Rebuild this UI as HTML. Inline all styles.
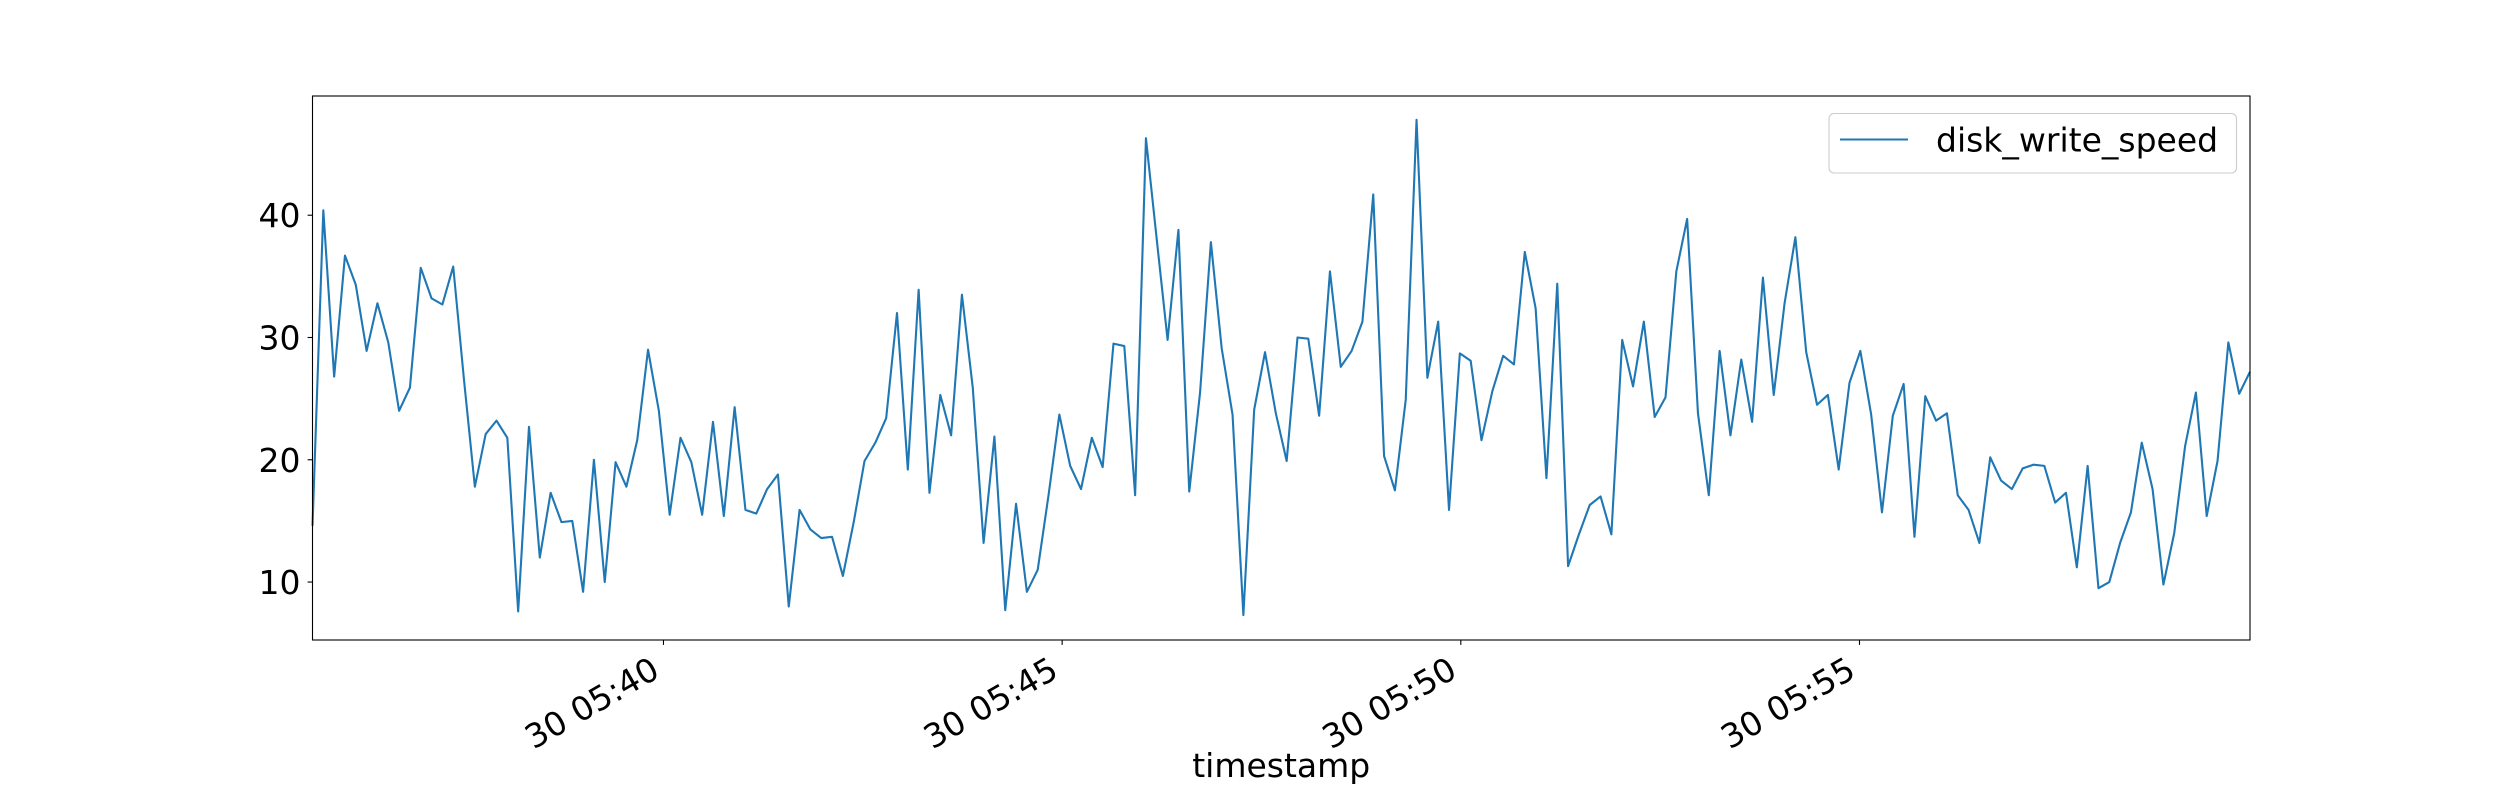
<!DOCTYPE html>
<html>
<head>
<meta charset="utf-8">
<style>
  html, body { margin: 0; padding: 0; background: #fff; }
  svg { display: block; font-family: "DejaVu Sans", "Liberation Sans", sans-serif; }
</style>
</head>
<body>
<svg id="chart" width="2500" height="800" viewBox="0 0 2500 800" xmlns="http://www.w3.org/2000/svg">
  <rect x="0" y="0" width="2500" height="800" fill="#ffffff"/>
  <g id="plot"></g>
</svg>
<script>
const diskWriteSpeed = [
  14.6, 40.4, 26.8, 36.7, 34.3, 28.9, 32.8, 29.6, 24.0, 25.9,
  35.7, 33.2, 32.7, 35.8, 26.5, 17.8, 22.1, 23.2, 21.8, 7.6,
  22.7, 12.0, 17.3, 14.9, 15.0, 9.2, 20.0, 10.0, 19.8, 17.8,
  21.6, 29.0, 24.0, 15.5, 21.8, 19.8, 15.5, 23.1, 15.4, 24.3,
  15.9, 15.6, 17.6, 18.8, 8.0, 15.9, 14.3, 13.6, 13.7, 10.5,
  14.9, 19.9, 21.4, 23.4, 32.0, 19.2, 33.9, 17.3, 25.3, 22.0,
  33.5, 25.9, 13.2, 21.9, 7.7, 16.4, 9.2, 11.0, 17.1, 23.7,
  19.5, 17.6, 21.8, 19.4, 29.5, 29.3, 17.1, 46.3, 38.0, 29.8,
  38.8, 17.4, 25.5, 37.8, 29.1, 23.7, 7.3, 24.1, 28.8, 23.8,
  19.9, 30.0, 29.9, 23.6, 35.4, 27.6, 28.9, 31.3, 41.7, 20.3,
  17.5, 24.9, 47.8, 26.7, 31.3, 15.9, 28.7, 28.1, 21.6, 25.6,
  28.5, 27.8, 37.0, 32.4, 18.5, 34.4, 11.3, 13.9, 16.3, 17.0,
  13.9, 29.8, 26.0, 31.3, 23.5, 25.1, 35.4, 39.7, 23.8, 17.1,
  28.9, 22.0, 28.2, 23.1, 34.9, 25.3, 32.8, 38.2, 28.8, 24.5,
  25.3, 19.2, 26.3, 28.9, 23.7, 15.7, 23.6, 26.2, 13.7, 25.2,
  23.2, 23.8, 17.1, 15.9, 13.2, 20.2, 18.3, 17.6, 19.3, 19.6,
  19.5, 16.5, 17.3, 11.2, 19.5, 9.5, 10.0, 13.2, 15.7, 21.4,
  17.6, 9.8, 14.0, 21.1, 25.5, 15.4, 19.9, 29.6, 25.4, 27.2
];
const startSeconds = 20135.9;   // 05:35:35.9
const stepSeconds = 8.145;
const yTickValues = [10, 20, 30, 40];
const xTickLabels = ["30 05:40", "30 05:45", "30 05:50", "30 05:55"];
const xTickSeconds = [20400, 20700, 21000, 21300];
const seriesName = "disk_write_speed";

const NS = "http://www.w3.org/2000/svg";
const plot = document.getElementById("plot");
const L = 312.5, R = 2250, T = 96, B = 640;
const yMin = 5.26, yMax = 49.75;
const FS = 33;
const n = diskWriteSpeed.length;
const tMin = startSeconds, tMax = startSeconds + (n - 1) * stepSeconds;
function xScale(t) { return L + (t - tMin) / (tMax - tMin) * (R - L); }
function yScale(v) { return B - (v - yMin) / (yMax - yMin) * (B - T); }
function mk(tag, attrs) {
  const e = document.createElementNS(NS, tag);
  for (const k in attrs) e.setAttribute(k, attrs[k]);
  return e;
}

let d = "";
diskWriteSpeed.forEach((v, i) => {
  const x = xScale(startSeconds + i * stepSeconds), y = yScale(v);
  d += (i ? "L" : "M") + x.toFixed(2) + "," + y.toFixed(2);
});
const line = mk("path", { d: d, fill: "none", stroke: "#1f77b4", "stroke-width": "2.1", "stroke-linejoin": "round" });


plot.appendChild(line);

const frame = mk("rect", { x: L, y: T, width: R - L, height: B - T, fill: "none", stroke: "#000", "stroke-width": "1.1" });


plot.appendChild(frame);

yTickValues.forEach(v => {
  const y = yScale(v);
  const tk = mk("line", { x1: L - 4.9, x2: L, y1: y, y2: y, stroke: "#000", "stroke-width": "1.1" });
  
  
  plot.appendChild(tk);
  const tx = mk("text", { x: L - 12, y: y + 12, "text-anchor": "end", "font-size": FS, fill: "#000" });
  tx.textContent = String(v);
  
  
  plot.appendChild(tx);
});

xTickSeconds.forEach((s, i) => {
  const x = xScale(s);
  const tk = mk("line", { x1: x, x2: x, y1: B, y2: B + 4.9, stroke: "#000", "stroke-width": "1.1" });
  
  
  plot.appendChild(tk);
  const px = x - 2, py = 676;
  const tx = mk("text", { x: px, y: py, "text-anchor": "end", "font-size": FS, fill: "#000", transform: "rotate(-30 " + px + " " + py + ")" });
  tx.textContent = xTickLabels[i];
  
  
  plot.appendChild(tx);
});

const xt = mk("text", { x: (L + R) / 2, y: 777, "text-anchor": "middle", "font-size": FS, fill: "#000" });
xt.textContent = "timestamp";


plot.appendChild(xt);

const lg = mk("g", {});


const box = mk("rect", { x: 1829, y: 113.5, width: 407.5, height: 59.5, rx: 5, ry: 5, fill: "#fff", "fill-opacity": "0.8", stroke: "#cccccc", "stroke-width": "1.1" });


lg.appendChild(box);
const ll = mk("line", { x1: 1840, x2: 1908, y1: 139.5, y2: 139.5, stroke: "#1f77b4", "stroke-width": "2.1" });


lg.appendChild(ll);
const lt = mk("text", { x: 1936, y: 151.5, "font-size": FS, fill: "#000" });
lt.textContent = seriesName;


lg.appendChild(lt);
plot.appendChild(lg);
</script>
</body>
</html>
